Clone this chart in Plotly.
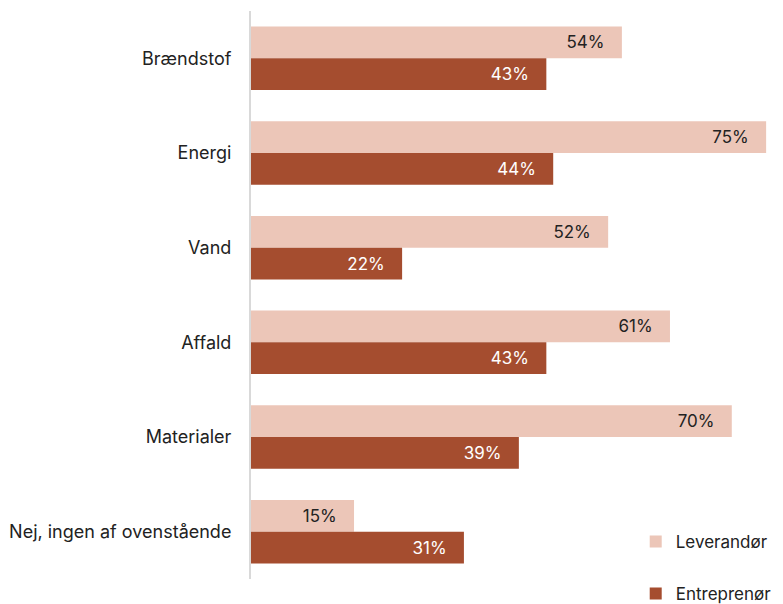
import plotly.graph_objects as go

categories = ["Brændstof", "Energi", "Vand", "Affald", "Materialer", "Nej, ingen af ovenstående"]
leverandor = [54, 75, 52, 61, 70, 15]
entreprenor = [43, 44, 22, 43, 39, 31]

LIGHT = "#ECC6B8"
DARK = "#A54D2F"
FONT = "Inter"
PAD = "\u00a0" * 3  # keeps the value label off the bar end

fig = go.Figure()
fig.add_trace(go.Bar(
    name="Leverandør", y=categories, x=leverandor, orientation="h",
    legendgroup="lev",
    marker=dict(color=LIGHT, line=dict(width=0)),
    texttemplate="%{x}%" + PAD, textposition="inside", insidetextanchor="end",
    textfont=dict(color="#222222", size=17, family=FONT),
    hoverinfo="skip",
))
fig.add_trace(go.Bar(
    name="Entreprenør", y=categories, x=entreprenor, orientation="h",
    legendgroup="ent",
    marker=dict(color=DARK, line=dict(width=0)),
    texttemplate="%{x}%" + PAD, textposition="inside", insidetextanchor="end",
    textfont=dict(color="#ffffff", size=17, family=FONT),
    hoverinfo="skip",
))

fig.update_layout(
    width=783, height=604,
    margin=dict(l=251, r=10, t=11, b=25, autoexpand=False),
    barmode="group", bargap=0.33, bargroupgap=0,
    plot_bgcolor="white", paper_bgcolor="white",
    font=dict(family=FONT, size=17, color="#222222"),
    uniformtext=dict(mode=False),
    xaxis=dict(range=[0, 76], visible=False, showgrid=False, zeroline=False),
    yaxis=dict(
        autorange="reversed", showgrid=False, zeroline=False,
        showline=True, linecolor="#d9d9d9", linewidth=2,
        ticks="", ticklabelstandoff=14,
        tickfont=dict(size=18, family=FONT, color="#222222"),
    ),
    legend=dict(
        x=0.737, y=-0.058, xanchor="left", yanchor="bottom",
        traceorder="grouped", tracegroupgap=27,
        font=dict(size=17, family=FONT, color="#222222"),
        itemwidth=30, bgcolor="rgba(0,0,0,0)",
    ),
)

fig.write_html("out.html")
